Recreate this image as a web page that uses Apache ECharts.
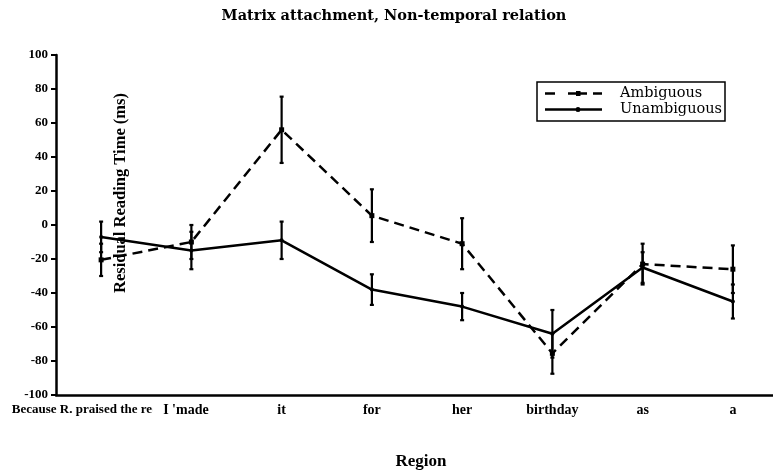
<!DOCTYPE html>
<html>
<head>
<meta charset="utf-8">
<script src="https://cdn.jsdelivr.net/npm/echarts@6/dist/echarts.min.js"></script>
<style>
  html, body { margin: 0; padding: 0; background: #fff; overflow: hidden; }
  /* the x axis runs a little past the right edge of the window */
  #chart { width: 790px; height: 475px; }
</style>
</head>
<body>
<div id="chart"></div>
<script>
// Sentence regions along the x axis
const regions = ['Because R. praised the recipe', "I 'made", 'it', 'for', 'her', 'birthday', 'as', 'a'];

// Mean residual reading times (ms) and error-bar half widths
const ambiguous = [-20.5, -10, 56, 5.5, -11, -75.5, -23, -26];
const ambiguousErr = [9.5, 10, 19.5, 15.5, 15, 12, 12, 14];
const unambiguous = [-7, -15, -9, -38, -48, -64, -25, -45];
const unambiguousErr = [9, 11, 11, 9, 8, 14, 9, 10];

// Y axis ticks
const yMin = -100, yMax = 100, yStep = 20;

const serifBold = { fontFamily: 'Liberation Serif', fontWeight: 'bold', color: '#000' };

// Legend keys: dashed line with a small square, solid line with a small dot
const dashedKey = 'path://M0,1.25h10v2.5h-10z M23,1.25h19v2.5h-19z M48,1.25h9v2.5h-9z M31,0h4.5v5h-4.5z';
const solidKey = 'path://M0,1.25h57v2.5h-57z M35.5,2.5A2.5,2.5 0 1 1 30.5,2.5A2.5,2.5 0 1 1 35.5,2.5z';

// Per-label tweaks: the long first label runs under the second one
const labelStyles = [
  { fontSize: 13, padding: [0, 16, 0, 0] },
  { padding: [0, 22, 0, 11] }
];

function errorSeries(name, means, errs) {
  return {
    name: name,
    type: 'custom',
    z: 3,
    data: means.map((m, i) => [i, m - errs[i], m + errs[i]]),
    renderItem: function (params, api) {
      const lo = api.coord([api.value(0), api.value(1)]);
      const hi = api.coord([api.value(0), api.value(2)]);
      const cap = 2;
      const style = { stroke: '#000', lineWidth: 2.2, fill: null };
      return {
        type: 'group',
        children: [
          { type: 'line', shape: { x1: hi[0], y1: hi[1], x2: lo[0], y2: lo[1] }, style: style },
          { type: 'line', shape: { x1: hi[0] - cap, y1: hi[1], x2: hi[0] + cap, y2: hi[1] }, style: style },
          { type: 'line', shape: { x1: lo[0] - cap, y1: lo[1], x2: lo[0] + cap, y2: lo[1] }, style: style }
        ]
      };
    }
  };
}

const chart = echarts.init(document.getElementById('chart'), null, { renderer: 'canvas' });

chart.setOption({
  backgroundColor: '#fff',
  animation: false,
  graphic: [
    {
      type: 'text',
      x: 394, y: 16,
      style: {
        text: 'Matrix attachment, Non-temporal relation',
        font: 'bold 14.5px "DejaVu Serif"',
        fill: '#000',
        textAlign: 'center',
        textVerticalAlign: 'middle'
      }
    },
    {
      type: 'text',
      x: 121, y: 193,
      rotation: Math.PI / 2,
      z: 10,
      style: {
        text: 'Residual Reading Time (ms)',
        font: 'bold 16.5px "Liberation Serif"',
        fill: '#000',
        textAlign: 'center',
        textVerticalAlign: 'middle'
      }
    }
  ],
  legend: {
    orient: 'vertical',
    left: 537,
    top: 82,
    padding: [4, 3, 4, 8],
    itemGap: 1,
    itemWidth: 57,
    itemHeight: 5,
    borderColor: '#000',
    borderWidth: 1.5,
    data: [
      { name: 'Ambiguous', icon: dashedKey },
      { name: 'Unambiguous', icon: solidKey }
    ],
    itemStyle: { color: '#000' },
    textStyle: { fontFamily: 'DejaVu Serif', fontSize: 14.5, lineHeight: 15, color: '#000', padding: [0, 0, 0, 13] }
  },
  grid: { left: 56, top: 55, width: 722, height: 340 },
  xAxis: {
    type: 'category',
    data: regions.map((r, i) => labelStyles[i] ? { value: r, textStyle: labelStyles[i] } : r),
    boundaryGap: true,
    name: 'Region',
    nameLocation: 'middle',
    nameGap: 58,
    nameTextStyle: Object.assign({ fontSize: 17, padding: [0, 0, 0, 8] }, serifBold),
    axisLine: { onZero: false, lineStyle: { color: '#000', width: 2.5 } },
    axisTick: { alignWithLabel: true, length: 4, lineStyle: { color: '#000', width: 2 } },
    axisLabel: Object.assign({
      interval: 0, fontSize: 14, margin: 8,
      backgroundColor: '#fff'
    }, serifBold),
    splitLine: { show: false }
  },
  yAxis: {
    type: 'value',
    min: yMin, max: yMax, interval: yStep,
    axisLine: { show: true, lineStyle: { color: '#000', width: 2.5 } },
    axisTick: { show: true, length: 5, lineStyle: { color: '#000', width: 2 } },
    axisLabel: Object.assign({ fontSize: 13, margin: 8 }, serifBold),
    splitLine: { show: false }
  },
  series: [
    {
      name: 'Ambiguous',
      type: 'line',
      data: ambiguous,
      symbol: 'rect',
      symbolSize: 5,
      itemStyle: { color: '#000' },
      lineStyle: { color: '#000', width: 2.5, type: [10, 6] },
      z: 4
    },
    {
      name: 'Unambiguous',
      type: 'line',
      data: unambiguous,
      symbol: 'circle',
      symbolSize: 4,
      itemStyle: { color: '#000' },
      lineStyle: { color: '#000', width: 2.5, type: 'solid' },
      z: 4
    },
    errorSeries('Ambiguous error', ambiguous, ambiguousErr),
    errorSeries('Unambiguous error', unambiguous, unambiguousErr)
  ]
});
</script>
</body>
</html>
